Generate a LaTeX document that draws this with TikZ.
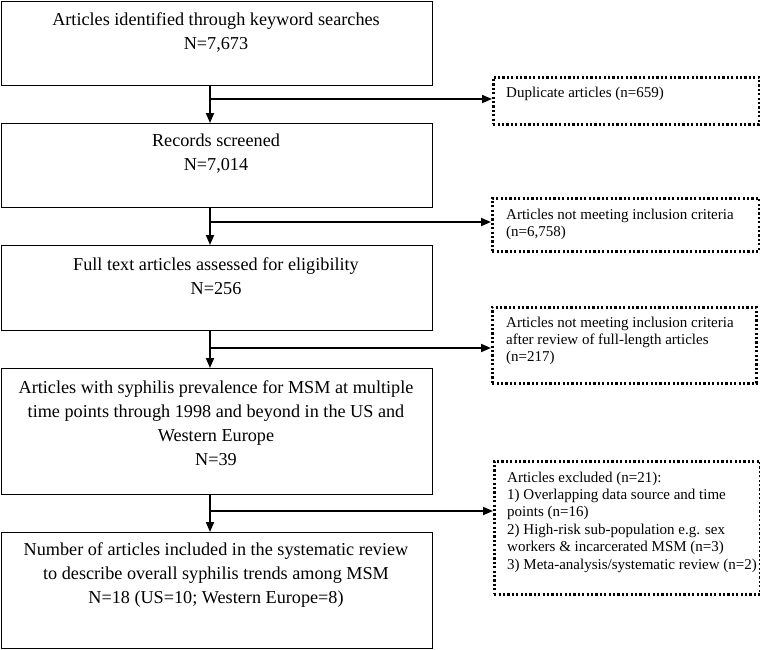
\documentclass[tikz,border=0pt]{standalone}
\usepackage{fontspec}
\setmainfont{Liberation Serif}
\usetikzlibrary{arrows.meta}
\begin{document}
\begin{tikzpicture}[x=1pt,y=-1pt,
  mainbox/.style={draw, line width=1.3pt, minimum width=431pt, anchor=north west, inner sep=0pt},
  sidebox/.style={draw, line width=2.5pt, dash pattern=on 2.2pt off 2.2pt, anchor=north west, inner sep=0pt},
  maintext/.style={font=\fontsize{18.2}{24}\selectfont, align=center, anchor=north, inner sep=0pt},
  sidetext/.style={font=\fontsize{15}{17.4}\selectfont, align=left, anchor=north west, inner sep=0pt},
  flow/.style={line width=1.8pt, -{Triangle[length=10pt,width=8pt]}}]
\useasboundingbox (0,0) rectangle (760,649);
% main boxes
\node[mainbox, minimum height=84pt] (b1) at (1,1) {};
\node[mainbox, minimum height=84pt] (b2) at (1,123) {};
\node[mainbox, minimum height=85pt] (b3) at (1,245) {};
\node[mainbox, minimum height=126pt] (b4) at (1,368) {};
\node[mainbox, minimum height=116pt] (b5) at (1,532) {};
\node[maintext] (t1) at (216,12) {Articles identified through keyword searches\\N=7,673};
\node[maintext] (t2) at (216,134) {Records screened\\N=7,014};
\node[maintext] (t3) at (216,257) {Full text articles assessed for eligibility\\N=256};
\node[maintext] (t4) at (216,380) {Articles with syphilis prevalence for MSM at multiple\\time points through 1998 and beyond in the US and\\Western Europe\\N=39};
\node[maintext] (t5) at (216,542) {Number of articles included in the systematic review\\to describe overall syphilis trends among MSM\\N=18 (US=10; Western Europe=8)};
% side boxes
\node[sidebox, minimum width=266pt, minimum height=47pt] (r1) at (492,76) {};
\node[sidebox, minimum width=267pt, minimum height=53pt] (r2) at (491,197) {};
\node[sidebox, minimum width=264pt, minimum height=76pt] (r3) at (491,306) {};
\node[sidebox, minimum width=266pt, minimum height=133pt] (r4) at (493,460) {};
\node[sidetext] (s1) at (506,86.5) {Duplicate articles (n=659)};
\node[sidetext] (s2) at (506,208.5) {Articles not meeting inclusion criteria\\(n=6,758)};
\node[sidetext] (s3) at (506,316.5) {Articles not meeting inclusion criteria\\after review of full-length articles\\(n=217)};
\node[sidetext] (s4) at (507,471.5) {Articles excluded (n=21):\\1) Overlapping data source and time\\points (n=16)\\2) High-risk sub-population e.g. sex\\workers \& incarcerated MSM (n=3)\\3) Meta-analysis/systematic review (n=2)};
% connectors
\coordinate (ax) at (210,0);
\draw[flow] (b1.south -| ax) -- (b2.north -| ax);
\draw[flow] (b2.south -| ax) -- (b3.north -| ax);
\draw[flow] (b3.south -| ax) -- (b4.north -| ax);
\draw[flow] (b4.south -| ax) -- (b5.north -| ax);
\coordinate (j1) at (210,99);
\coordinate (j2) at (210,222);
\coordinate (j3) at (210,348);
\coordinate (j4) at (210,511);
\draw[flow] (j1) -- (j1 -| r1.west);
\draw[flow] (j2) -- (j2 -| r2.west);
\draw[flow] (j3) -- (j3 -| r3.west);
\draw[flow] (j4) -- (j4 -| r4.west);
\end{tikzpicture}
\end{document}
